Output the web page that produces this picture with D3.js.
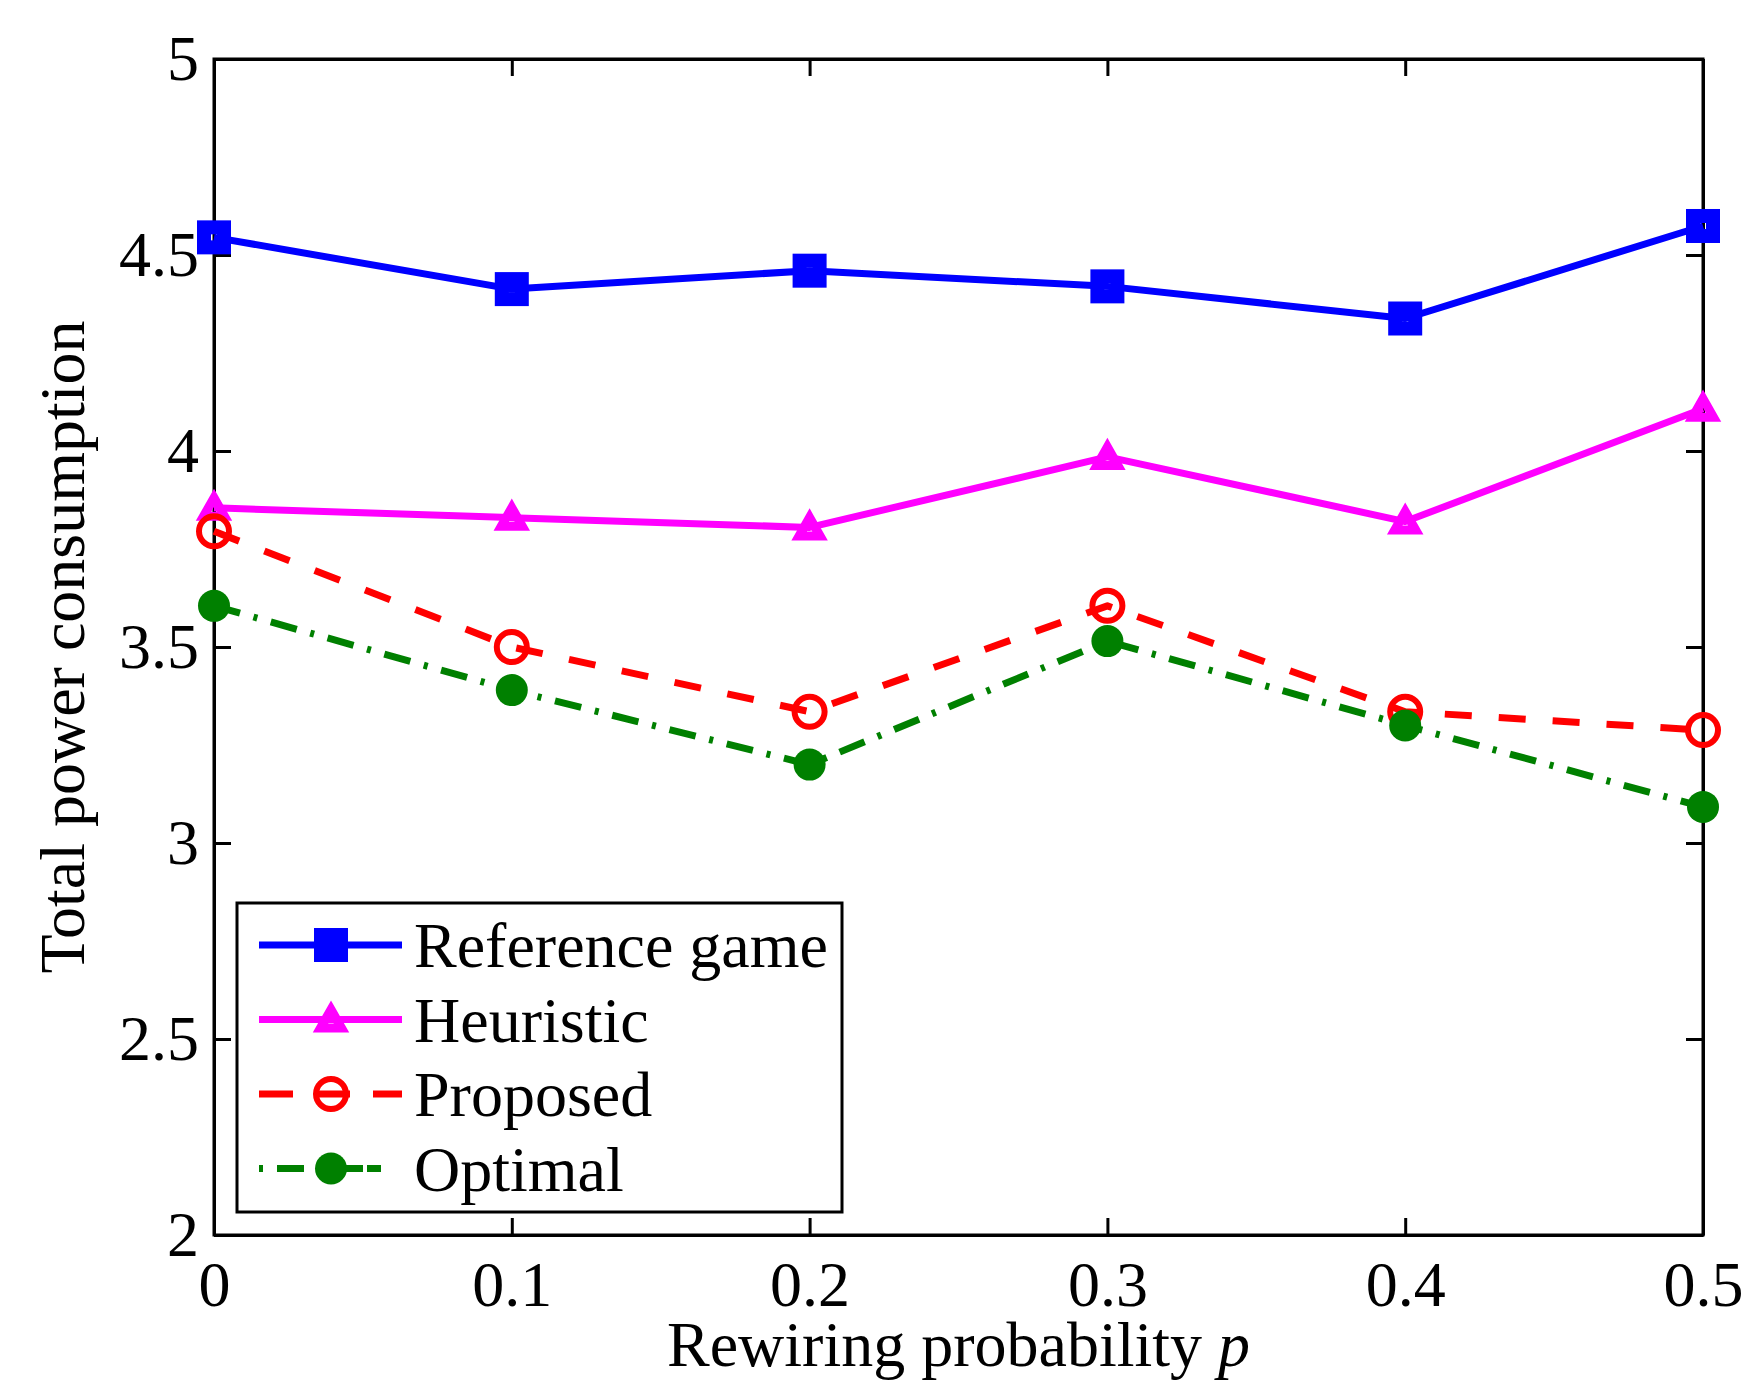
<!DOCTYPE html>
<html>
<head>
<meta charset="utf-8">
<script src="https://cdn.jsdelivr.net/npm/d3@7"></script>
<style>
  body { margin: 0; background: #fff; }
  text { font-family: "Liberation Serif", "Times New Roman", serif; fill: #000; }
</style>
</head>
<body>
<div id="chart"></div>
<script>
// values
const probabilities = [0, 0.1, 0.2, 0.3, 0.4, 0.5];
const referenceGame = [4.545, 4.413, 4.46, 4.42, 4.338, 4.574];
const heuristic = [3.855, 3.83, 3.805, 3.985, 3.82, 4.108];
const proposed = [3.795, 3.5, 3.335, 3.605, 3.335, 3.288];
const optimal = [3.605, 3.39, 3.2, 3.515, 3.3, 3.092];

const seriesNames = ["Reference game", "Heuristic", "Proposed", "Optimal"];
const xTicks = [0, 0.1, 0.2, 0.3, 0.4, 0.5];
const yTicks = [2, 2.5, 3, 3.5, 4, 4.5, 5];

class LineVis {
  constructor(parentElement) {
    this.parentElement = parentElement;
    this.initVis();
  }

  initVis() {
    let vis = this;

    vis.margin = { top: 59, right: 40, bottom: 149, left: 214 };
    vis.width = 1743 - vis.margin.left - vis.margin.right;
    vis.height = 1384 - vis.margin.top - vis.margin.bottom;

    vis.svg = d3.select("#" + vis.parentElement)
      .append("svg")
      .attr("width", 1743)
      .attr("height", 1384)
      .append("g")
      .attr("transform", `translate(${vis.margin.left}, ${vis.margin.top})`);

    vis.x = d3.scaleLinear().domain([0, 0.5]).range([0, vis.width]);
    vis.y = d3.scaleLinear().domain([2, 5]).range([vis.height, 0]);

    const fmt = d => d === 0 ? "0" : String(d);

    // ticks point inward on every side, like a matlab box
    vis.xAxis = d3.axisBottom(vis.x).tickValues(xTicks).tickFormat(fmt)
      .tickSizeInner(-17).tickSizeOuter(0).tickPadding(26);
    vis.xAxisTop = d3.axisTop(vis.x).tickValues(xTicks).tickFormat("")
      .tickSizeInner(-17).tickSizeOuter(0);
    vis.yAxis = d3.axisLeft(vis.y).tickValues(yTicks).tickFormat(fmt)
      .tickSizeInner(-17).tickSizeOuter(0).tickPadding(15);
    vis.yAxisRight = d3.axisRight(vis.y).tickValues(yTicks).tickFormat("")
      .tickSizeInner(-17).tickSizeOuter(0);

    vis.svg.append("g").attr("class", "x-axis axis")
      .attr("transform", "translate(0," + vis.height + ")").call(vis.xAxis);
    vis.svg.append("g").attr("class", "axis").call(vis.xAxisTop);
    vis.svg.append("g").attr("class", "y-axis axis").call(vis.yAxis);
    vis.svg.append("g").attr("class", "axis")
      .attr("transform", "translate(" + vis.width + ",0)").call(vis.yAxisRight);

    vis.svg.selectAll(".axis path, .axis line")
      .attr("stroke", "#000").attr("stroke-width", 3);
    vis.svg.selectAll(".axis text")
      .style("font-family", "'Liberation Serif', 'Times New Roman', serif")
      .style("font-size", "64px").attr("fill", "#000");

    vis.svg.append("rect")
      .attr("width", vis.width).attr("height", vis.height)
      .attr("fill", "none").attr("stroke", "#000").attr("stroke-width", 3);

    // axis titles
    let xl = vis.svg.append("text")
      .attr("x", vis.width / 2)
      .attr("y", vis.height + 131)
      .style("text-anchor", "middle")
      .style("font-size", "64px");
    xl.append("tspan").text("Rewiring probability ");
    xl.append("tspan").style("font-style", "italic").text("p");

    vis.svg.append("text")
      .attr("transform", "rotate(-90)")
      .attr("x", -vis.height / 2)
      .attr("y", 84 - vis.margin.left)
      .style("text-anchor", "middle")
      .style("font-size", "64px")
      .text("Total power consumption");

    vis.wrangleData();
  }

  wrangleData() {
    let vis = this;

    const styles = [
      { color: "#0000ff", dash: null, marker: "square" },
      { color: "#ff00ff", dash: null, marker: "triangle" },
      { color: "#ff0000", dash: "27,27", marker: "circle" },
      { color: "#008000", dash: "27,14,4,14", marker: "dot" }
    ];
    const values = [referenceGame, heuristic, proposed, optimal];

    vis.displayData = seriesNames.map((name, i) => ({
      name: name,
      style: styles[i],
      points: probabilities.map((p, j) => ({ p: p, v: values[i][j] }))
    }));

    vis.updateVis();
  }

  drawMarker(sel, type, color) {
    if (type === "square") {
      sel.append("rect").attr("x", -10).attr("y", -10)
        .attr("width", 20).attr("height", 20)
        .attr("fill", "none").attr("stroke", color).attr("stroke-width", 14);
    } else if (type === "triangle") {
      sel.append("path").attr("d", "M0,-10L10.5,8.5L-10.5,8.5Z")
        .attr("fill", "none").attr("stroke", color).attr("stroke-width", 9)
        .attr("stroke-linejoin", "miter");
    } else if (type === "circle") {
      sel.append("circle").attr("r", 15)
        .attr("fill", "none").attr("stroke", color).attr("stroke-width", 6);
    } else {
      sel.append("circle").attr("r", 16).attr("fill", color);
    }
  }

  updateVis() {
    let vis = this;

    let line = d3.line().x(d => vis.x(d.p)).y(d => vis.y(d.v));

    let series = vis.svg.selectAll(".series")
      .data(vis.displayData)
      .enter()
      .append("g")
      .attr("class", "series");

    series.append("path")
      .attr("d", d => line(d.points))
      .attr("fill", "none")
      .attr("stroke", d => d.style.color)
      .attr("stroke-width", 7)
      .attr("stroke-linejoin", "round")
      .attr("stroke-dasharray", d => d.style.dash);

    series.each(function (s) {
      d3.select(this).selectAll(".mark")
        .data(s.points)
        .enter()
        .append("g")
        .attr("class", "mark")
        .attr("transform", d => `translate(${vis.x(d.p)},${vis.y(d.v)})`)
        .each(function () { vis.drawMarker(d3.select(this), s.style.marker, s.style.color); });
    });

    // legend, lower left inside the axes
    let legend = vis.svg.append("g")
      .attr("transform", `translate(${237 - vis.margin.left}, ${903 - vis.margin.top})`);

    legend.append("rect")
      .attr("width", 605).attr("height", 309)
      .attr("fill", "#fff").attr("stroke", "#000").attr("stroke-width", 3);

    let rows = legend.selectAll(".legend-row")
      .data(vis.displayData)
      .enter()
      .append("g")
      .attr("class", "legend-row")
      .attr("transform", (d, i) => `translate(0, ${42 + i * 74.5})`);

    rows.append("line")
      .attr("x1", 22).attr("x2", 165)
      .attr("stroke", d => d.style.color)
      .attr("stroke-width", 7)
      .attr("stroke-dasharray", d => d.style.dash === "27,27" ? "34,23" : (d.style.dash ? "4,14,27,14,4,14,27" : null));

    rows.append("g")
      .attr("transform", "translate(94,0)")
      .each(function (d) { vis.drawMarker(d3.select(this), d.style.marker, d.style.color); });

    rows.append("text")
      .attr("x", 177)
      .attr("y", 22)
      .style("font-size", "64px")
      .text(d => d.name);
  }
}

new LineVis("chart");
</script>
</body>
</html>
